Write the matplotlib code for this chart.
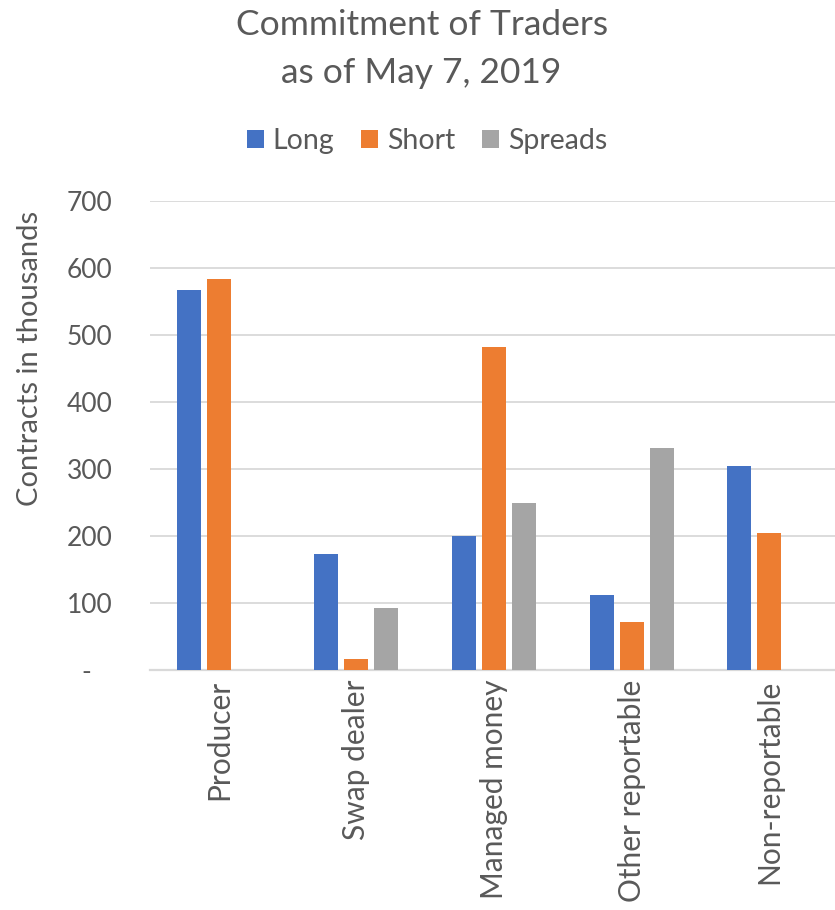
import matplotlib.pyplot as plt
from matplotlib.patches import Patch
import numpy as np

# Commitment of Traders, contracts in thousands
categories = ['Producer', 'Swap dealer', 'Managed money', 'Other reportable', 'Non-reportable']
long_pos = [567, 173, 200, 112, 305]
short_pos = [583, 16, 482, 71, 204]
spreads = [0, 92, 249, 331, 0]

series_names = ['Long', 'Short', 'Spreads']
colors = ['#4472C4', '#ED7D31', '#A5A5A5']
text_color = '#595959'
grid_color = '#D9D9D9'

plt.rcParams['font.family'] = ['Lato', 'DejaVu Sans']

fig = plt.figure(figsize=(8.35, 9.1), dpi=100)
ax = fig.add_axes([150 / 835, 240 / 910, 688 / 835, 469 / 910])

x = np.arange(len(categories))
bar_w = 0.174
step = 0.218
for i, (vals, col) in enumerate(zip([long_pos, short_pos, spreads], colors)):
    ax.bar(x + (i - 1) * step, vals, width=bar_w, color=col, zorder=3)

ax.set_xlim(-0.5, len(categories) - 0.5)
ax.set_ylim(0, 700)
yticks = np.arange(0, 701, 100)
ax.set_yticks(yticks)
ax.set_yticklabels(['-   '] + [str(v) for v in yticks[1:]])
ax.set_xticks(x)
ax.set_xticklabels(categories, rotation=90, va='top', ha='center', fontsize=21.5)

ax.grid(axis='y', color=grid_color, linewidth=1.3, zorder=0)
for s in ['top', 'right', 'left']:
    ax.spines[s].set_visible(False)
ax.spines['bottom'].set_color(grid_color)
ax.spines['bottom'].set_linewidth(1.6)
ax.tick_params(axis='both', length=0, colors=text_color)
ax.tick_params(axis='y', pad=27, labelsize=19)
ax.tick_params(axis='x', pad=7)

# axis title sits above the middle of the axis
ax.set_ylabel('Contracts in thousands', fontsize=21, color=text_color)
ax.yaxis.set_label_coords(-0.1555, 0.664)

fig.text(0.505, 1 - 25 / 910, 'Commitment of Traders', ha='center', va='center',
         fontsize=25.5, color=text_color)
fig.text(0.505, 1 - 73 / 910, 'as of May 7, 2019', ha='center', va='center',
         fontsize=25.5, color=text_color)

handles = [Patch(facecolor=c, edgecolor='none') for c in colors]
fig.legend(handles, series_names, loc='center', bbox_to_anchor=(427 / 835, 1 - 141 / 910),
           ncol=3, frameon=False, fontsize=20.5, labelcolor=text_color,
           handlelength=0.6, handleheight=0.6, handletextpad=0.3, columnspacing=0.95)

fig.savefig('out.png', dpi=100)
